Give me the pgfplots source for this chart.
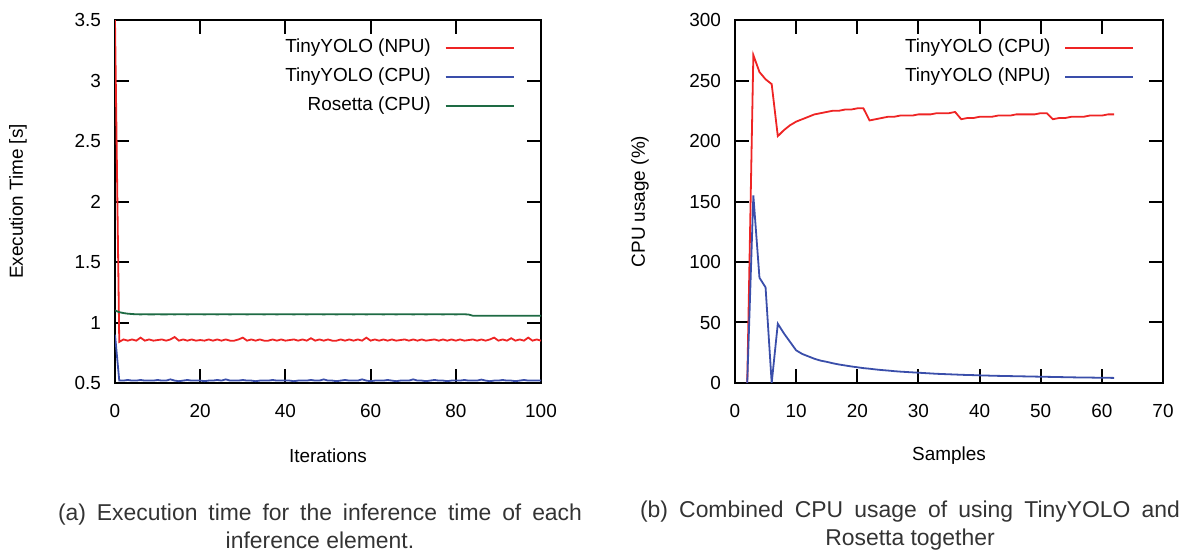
\documentclass[border=0pt]{standalone}
\usepackage{fontspec}
\setmainfont{Liberation Sans}
\usepackage{pgfplots}
\pgfplotsset{compat=1.18}
\definecolor{gpred}{HTML}{EE2424}
\definecolor{gpblue}{HTML}{3A4EAA}
\definecolor{gpgreen}{HTML}{1E6B44}

\pgfplotsset{
  gpstyle/.style={
    scale only axis,
    axis line style={black,line width=1bp},
    tick style={black,line width=1bp},
    tick align=inside,
    major tick length=7bp,
    font=\fontsize{9.5}{11}\selectfont,
    /pgf/number format/assume math mode=true,
    /pgf/number format/fixed,
    xticklabel style={yshift=-7bp},
    yticklabel style={xshift=-3.5bp},
    legend plot pos=right,
    legend cell align=right,
    legend image code/.code={\draw[##1] (0bp,0bp) -- (34bp,0bp);},
    legend style={draw=none,fill=none,inner sep=0pt,row sep=5bp,column sep=7bp,
      nodes={inner sep=0pt,text height=7bp,text depth=2.5bp},
      anchor=north east},
    every axis plot/.append style={line width=0.9bp,mark=none},
  }
}

\begin{document}
\begin{tikzpicture}
\useasboundingbox (0,0) rectangle (589.5bp,276bp);

% ---------------- (a) execution time ----------------
\begin{axis}[gpstyle,
  at={(57.5bp,84.5bp)}, anchor=south west,
  width=213bp, height=181.5bp,
  xmin=0, xmax=100, ymin=0.5, ymax=3.5,
  xtick={0,20,...,100}, ytick={0.5,1,...,3.5},
  xlabel={Iterations}, ylabel={Execution Time [s]},
  xlabel style={at={(axis description cs:0.5,-0.201)},anchor=center},
  ylabel style={at={(axis description cs:-0.228,0.5)},anchor=center},
  legend style={at={(axis description cs:0.939,0.950)}},
]
\addplot[gpred] coordinates {
(0,3.5) (1,0.84) (2,0.86) (3,0.85) (4,0.86) (5,0.85) (6,0.875) (7,0.85) (8,0.86) (9,0.85)
(10,0.855) (11,0.86) (12,0.85) (13,0.86) (14,0.88) (15,0.85) (16,0.86) (17,0.85) (18,0.86) (19,0.85)
(20,0.855) (21,0.85) (22,0.86) (23,0.85) (24,0.86) (25,0.85) (26,0.86) (27,0.85) (28,0.85) (29,0.86)
(30,0.875) (31,0.85) (32,0.86) (33,0.85) (34,0.86) (35,0.85) (36,0.85) (37,0.86) (38,0.85) (39,0.86)
(40,0.85) (41,0.855) (42,0.86) (43,0.85) (44,0.86) (45,0.85) (46,0.87) (47,0.85) (48,0.86) (49,0.85)
(50,0.86) (51,0.85) (52,0.85) (53,0.86) (54,0.85) (55,0.86) (56,0.85) (57,0.86) (58,0.85) (59,0.875)
(60,0.85) (61,0.86) (62,0.85) (63,0.86) (64,0.85) (65,0.86) (66,0.85) (67,0.855) (68,0.86) (69,0.85)
(70,0.86) (71,0.85) (72,0.86) (73,0.85) (74,0.855) (75,0.86) (76,0.85) (77,0.86) (78,0.85) (79,0.86)
(80,0.85) (81,0.86) (82,0.85) (83,0.855) (84,0.86) (85,0.85) (86,0.86) (87,0.85) (88,0.86) (89,0.875)
(90,0.85) (91,0.86) (92,0.85) (93,0.87) (94,0.85) (95,0.86) (96,0.85) (97,0.875) (98,0.85) (99,0.86)
(100,0.85)
};
\addlegendentry{TinyYOLO (NPU)}
\addplot[gpblue] coordinates {
(0,0.90) (1,0.52) (2,0.52) (3,0.525) (4,0.52) (5,0.52) (6,0.525) (7,0.52) (8,0.52) (9,0.52)
(10,0.525) (11,0.52) (12,0.52) (13,0.53) (14,0.52) (15,0.515) (16,0.52) (17,0.525) (18,0.52) (19,0.52)
(20,0.52) (21,0.515) (22,0.52) (23,0.52) (24,0.525) (25,0.52) (26,0.53) (27,0.52) (28,0.52) (29,0.52)
(30,0.525) (31,0.52) (32,0.52) (33,0.515) (34,0.52) (35,0.52) (36,0.52) (37,0.525) (38,0.52) (39,0.52)
(40,0.52) (41,0.52) (42,0.515) (43,0.52) (44,0.52) (45,0.52) (46,0.525) (47,0.52) (48,0.52) (49,0.53)
(50,0.52) (51,0.52) (52,0.515) (53,0.52) (54,0.525) (55,0.52) (56,0.52) (57,0.52) (58,0.53) (59,0.52)
(60,0.515) (61,0.52) (62,0.52) (63,0.52) (64,0.525) (65,0.52) (66,0.515) (67,0.52) (68,0.52) (69,0.52)
(70,0.53) (71,0.52) (72,0.52) (73,0.515) (74,0.52) (75,0.525) (76,0.52) (77,0.52) (78,0.515) (79,0.52)
(80,0.52) (81,0.52) (82,0.525) (83,0.52) (84,0.52) (85,0.52) (86,0.528) (87,0.52) (88,0.515) (89,0.52)
(90,0.52) (91,0.525) (92,0.52) (93,0.52) (94,0.515) (95,0.52) (96,0.525) (97,0.52) (98,0.52) (99,0.52)
(100,0.52)
};
\addlegendentry{TinyYOLO (CPU)}
\addplot[gpgreen] coordinates {
(0,1.10) (1,1.085) (2,1.078) (3,1.073) (4,1.070) (5,1.068) (6,1.067) (7,1.068) (8,1.067) (9,1.067)
(10,1.068) (11,1.067) (12,1.067) (13,1.068) (14,1.067) (15,1.068) (16,1.068) (17,1.067) (18,1.068) (19,1.068)
(20,1.068) (21,1.067) (22,1.068) (23,1.068) (24,1.067) (25,1.068) (26,1.068) (27,1.067) (28,1.068) (29,1.068)
(30,1.068) (31,1.067) (32,1.068) (33,1.068) (34,1.068) (35,1.067) (36,1.068) (37,1.068) (38,1.067) (39,1.068)
(40,1.068) (41,1.068) (42,1.067) (43,1.068) (44,1.068) (45,1.067) (46,1.068) (47,1.068) (48,1.068) (49,1.067)
(50,1.068) (51,1.068) (52,1.067) (53,1.068) (54,1.068) (55,1.068) (56,1.067) (57,1.068) (58,1.068) (59,1.067)
(60,1.068) (61,1.068) (62,1.068) (63,1.067) (64,1.068) (65,1.068) (66,1.067) (67,1.068) (68,1.068) (69,1.068)
(70,1.067) (71,1.068) (72,1.068) (73,1.067) (74,1.068) (75,1.068) (76,1.068) (77,1.067) (78,1.068) (79,1.068)
(80,1.067) (81,1.068) (82,1.068) (83,1.066) (84,1.056) (85,1.055) (86,1.055) (87,1.055) (88,1.055) (89,1.055)
(90,1.055) (91,1.055) (92,1.055) (93,1.055) (94,1.055) (95,1.055) (96,1.055) (97,1.055) (98,1.055) (99,1.055)
(100,1.055)
};
\addlegendentry{Rosetta (CPU)}
\end{axis}

% ---------------- (b) CPU usage ----------------
\begin{axis}[gpstyle,
  at={(367.5bp,84.5bp)}, anchor=south west,
  width=214bp, height=181.5bp,
  xmin=0, xmax=70, ymin=0, ymax=300,
  xtick={0,10,...,70}, ytick={0,50,...,300},
  xlabel={Samples}, ylabel={CPU usage (\%)},
  xlabel style={at={(axis description cs:0.5,-0.201)},anchor=center},
  ylabel style={at={(axis description cs:-0.222,0.5)},anchor=center},
  legend style={at={(axis description cs:0.934,0.950)}},
]
\addplot[gpred] coordinates {
(2,0) (3,271) (4,257) (5,251) (6,247) (7,204) (8,209) (9,213) (10,216) (11,218)
(12,220) (13,222) (14,223) (15,224) (16,225) (17,225) (18,226) (19,226) (20,227) (21,227)
(22,217) (23,218) (24,219) (25,220) (26,220) (27,221) (28,221) (29,221) (30,222) (31,222)
(32,222) (33,223) (34,223) (35,223) (36,224) (37,218) (38,219) (39,219) (40,220) (41,220)
(42,220) (43,221) (44,221) (45,221) (46,222) (47,222) (48,222) (49,222) (50,223) (51,223)
(52,218) (53,219) (54,219) (55,220) (56,220) (57,220) (58,221) (59,221) (60,221) (61,222)
(62,222)
};
\addlegendentry{TinyYOLO (CPU)}
\addplot[gpblue] coordinates {
(2,0) (3,155) (4,87) (5,79) (6,0) (7,49) (8,41) (9,34) (10,27) (11,24)
(12,22) (13,20) (14,18.5) (15,17.5) (16,16.3) (17,15.3) (18,14.5) (19,13.7) (20,13) (21,12.3)
(22,11.8) (23,11.2) (24,10.7) (25,10.3) (26,9.8) (27,9.4) (28,9.1) (29,8.8) (30,8.5) (31,8.2)
(32,7.9) (33,7.6) (34,7.4) (35,7.2) (36,7.0) (37,6.8) (38,6.6) (39,6.5) (40,6.3) (41,6.2)
(42,6.0) (43,5.9) (44,5.8) (45,5.7) (46,5.6) (47,5.5) (48,5.4) (49,5.3) (50,5.2) (51,5.1)
(52,5.0) (53,4.9) (54,4.8) (55,4.7) (56,4.6) (57,4.5) (58,4.5) (59,4.4) (60,4.3) (61,4.3)
(62,4.2)
};
\addlegendentry{TinyYOLO (NPU)}
\end{axis}

% ---------------- captions (first line justified like a subcaption) ----------------
\node[align=center,font=\fontsize{11.5}{14}\selectfont,text=black!80] at (160bp,13bp)
  {\makebox[262bp][s]{(a) Execution time for the inference time of each}\\inference element.};
\node[align=center,font=\fontsize{11.5}{14}\selectfont,text=black!80] at (455bp,13bp)
  {\makebox[270bp][s]{(b) Combined CPU usage of using TinyYOLO and}\\Rosetta together};
\end{tikzpicture}
\end{document}
